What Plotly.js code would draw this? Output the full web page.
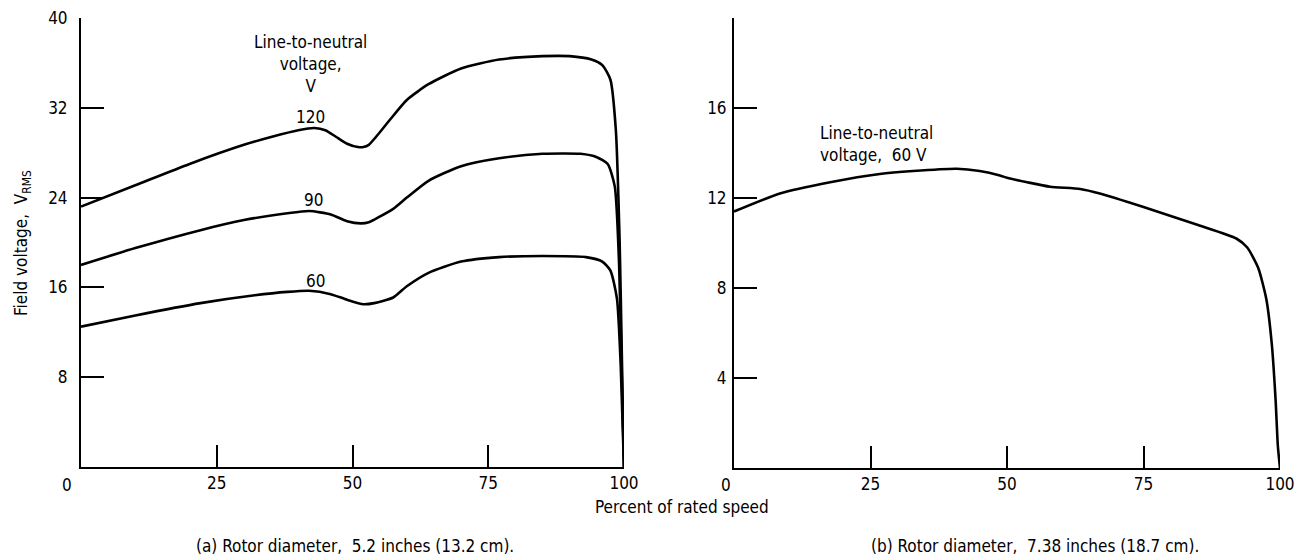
<!DOCTYPE html>
<html>
<head>
<meta charset="utf-8">
<script src="https://cdn.plot.ly/plotly-3.0.1.min.js"></script>
<style>html,body{margin:0;padding:0;background:#fff;}#chart{width:1305px;height:557px;}</style>
</head>
<body>
<div id="chart"></div>
<script>
// Panel (a): rotor diameter 5.2 in — field voltage (V RMS) vs percent of rated speed
const xA120 = [0, 10, 20, 30, 35, 40, 43, 45, 47, 49, 51, 52, 53, 55, 57, 60, 64, 70, 77, 85, 90, 94, 96, 97.5, 98.5, 99.2, 99.6, 100];
const yA120 = [23.2, 25.1, 27.0, 28.7, 29.4, 30.0, 30.2, 30.0, 29.4, 28.8, 28.5, 28.5, 28.7, 29.8, 31.0, 32.7, 34.1, 35.5, 36.3, 36.6, 36.6, 36.3, 35.8, 34.5, 30.0, 20.0, 10.0, 0];
const xA90 = [0, 10, 22, 30, 38, 42, 46, 49, 51.5, 53, 55, 57.5, 60, 64, 70, 77, 85, 92, 95, 97, 98.3, 99.1, 99.6, 100];
const yA90 = [18.0, 19.5, 21.1, 22.0, 22.6, 22.8, 22.5, 21.9, 21.7, 21.8, 22.3, 23.0, 24.0, 25.5, 26.8, 27.5, 27.9, 27.9, 27.6, 27.0, 25.0, 18.0, 8.0, 0];
const xA60 = [0, 10, 22, 32, 38, 42, 46, 49, 52, 54, 57.5, 60, 64, 70, 77, 85, 93, 96, 97.5, 98.7, 99.4, 100];
const yA60 = [12.5, 13.5, 14.6, 15.3, 15.6, 15.7, 15.4, 14.9, 14.5, 14.6, 15.1, 16.1, 17.3, 18.3, 18.7, 18.8, 18.7, 18.3, 17.5, 15.0, 9.0, 0];
// Panel (b): rotor diameter 7.38 in — 60 V line-to-neutral
const xB60 = [0, 8.4, 17.6, 26.7, 32.8, 40.8, 45, 48.7, 50, 53.7, 57.9, 63.4, 67, 75, 85, 92, 94, 96, 97.5, 98.5, 99.2, 99.6, 100];
const yB60 = [11.4, 12.2, 12.7, 13.07, 13.2, 13.3, 13.2, 13.0, 12.9, 12.7, 12.5, 12.4, 12.2, 11.6, 10.8, 10.2, 9.8, 8.9, 7.5, 5.5, 3.0, 1.0, 0];

const xTicks = [25, 50, 75, 100];
const yTicksA = [8, 16, 24, 32, 40];
const yTicksB = [4, 8, 12, 16];
const yTopTickB = [20];

const FONT = '"Liberation Sans Narrow", "DejaVu Sans Condensed", "Roboto", sans-serif';
const FS = 17;
const W = 1305, H = 557;
const px = v => v / W, py = v => 1 - v / H;

const lineStyle = {color: '#000', width: 2.6, shape: 'spline', smoothing: 0.6};
const traces = [
  {x: xA120, y: yA120, xaxis: 'x', yaxis: 'y', mode: 'lines', line: lineStyle, hoverinfo: 'skip'},
  {x: xA90, y: yA90, xaxis: 'x', yaxis: 'y', mode: 'lines', line: lineStyle, hoverinfo: 'skip'},
  {x: xA60, y: yA60, xaxis: 'x', yaxis: 'y', mode: 'lines', line: lineStyle, hoverinfo: 'skip'},
  {x: xB60, y: yB60, xaxis: 'x2', yaxis: 'y2', mode: 'lines', line: lineStyle, hoverinfo: 'skip'},
  {x: [], y: [], xaxis: 'x2', yaxis: 'y3', mode: 'lines', hoverinfo: 'skip'}
];

const xaxisBase = {
  range: [0, 100], tickvals: xTicks, ticks: 'inside', ticklen: 22, tickwidth: 2, tickcolor: '#000',
  showline: true, linecolor: '#000', linewidth: 2, showgrid: false, zeroline: false,
  tickfont: {family: FONT, size: FS, color: '#000'}, fixedrange: true
};
const yaxisBase = {
  ticks: 'inside', ticklen: 23, tickwidth: 2, tickcolor: '#000',
  showline: true, linecolor: '#000', linewidth: 2, showgrid: false, zeroline: false,
  tickfont: {family: FONT, size: FS, color: '#000'}, fixedrange: true
};

const ann = (text, x, y, extra) => Object.assign({
  text: text, x: x, y: y, xref: 'paper', yref: 'paper', showarrow: false,
  xanchor: 'center', yanchor: 'middle',
  font: {family: FONT, size: FS, color: '#000'}
}, extra || {});

const layout = {
  width: W, height: H,
  margin: {l: 0, r: 0, t: 0, b: 0},
  paper_bgcolor: '#fff', plot_bgcolor: '#fff',
  showlegend: false,
  xaxis: Object.assign({}, xaxisBase, {domain: [px(81), px(624)], anchor: 'y'}),
  yaxis: Object.assign({}, yaxisBase, {domain: [py(467), py(18)], range: [0, 40], tickvals: yTicksA, anchor: 'x', ticklabelstandoff: 8}),
  xaxis2: Object.assign({}, xaxisBase, {domain: [px(734), px(1280)], anchor: 'y2'}),
  yaxis2: Object.assign({}, yaxisBase, {domain: [py(468), py(18)], range: [0, 20], tickvals: yTicksB, anchor: 'x2', ticklabelstandoff: 2}),
  yaxis3: Object.assign({}, yaxisBase, {overlaying: 'y2', range: [0, 20], tickvals: yTopTickB, anchor: 'x2', showticklabels: false, showline: false}),
  annotations: [
    ann('0', px(67), py(485)),
    ann('0', px(726), py(485)),
    ann('Percent of rated speed', px(682), py(507)),
    ann('(a) Rotor diameter,  5.2 inches (13.2 cm).', px(355), py(546)),
    ann('(b) Rotor diameter,  7.38 inches (18.7 cm).', px(1035), py(546)),
    ann('Field voltage,  V<sub>RMS</sub>', px(22), py(243), {textangle: -90}),
    ann('Line-to-neutral<br>voltage,<br>V', px(310), py(64), {align: 'center'}),
    ann('120', px(310), py(117)),
    ann('90', px(313), py(200)),
    ann('60', px(315), py(281)),
    ann('Line-to-neutral<br>voltage,  60 V', px(818), py(144), {xanchor: 'left', align: 'left'})
  ]
};

Plotly.newPlot('chart', traces, layout, {displayModeBar: false, staticPlot: true});
</script>
</body>
</html>
